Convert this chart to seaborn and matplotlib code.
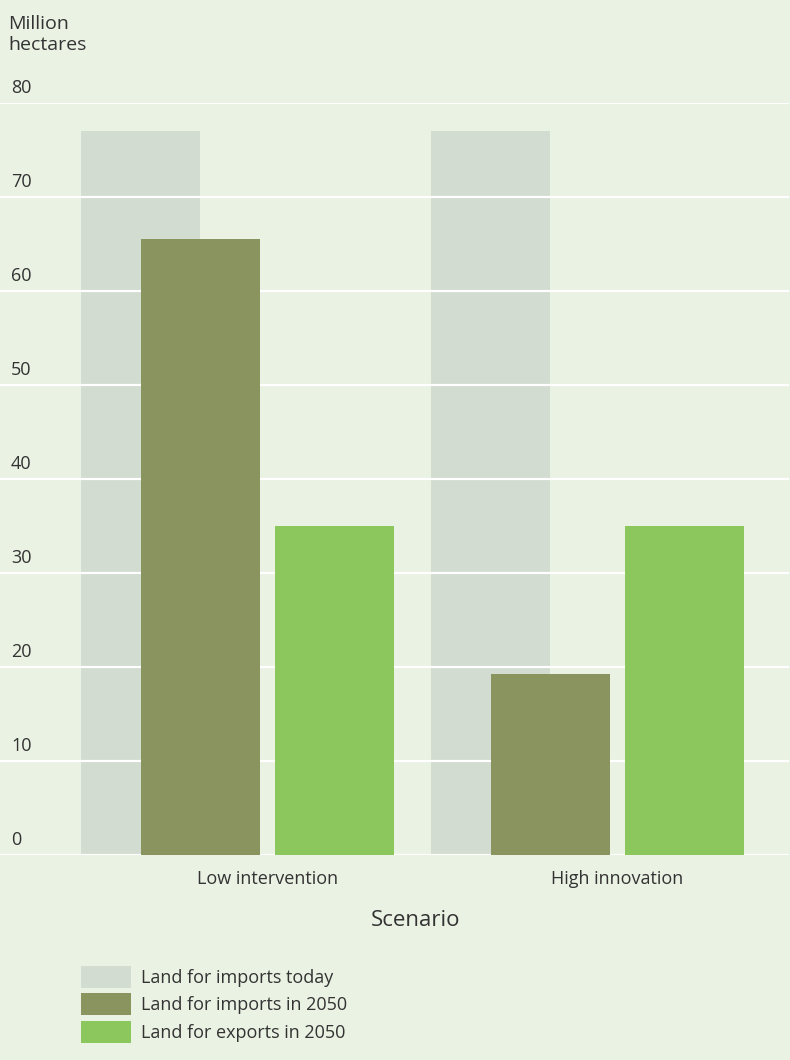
import numpy as np
import pandas as pd
import seaborn as sns
import matplotlib.pyplot as plt
import matplotlib.transforms as mtransforms
from matplotlib.patches import Patch

# data
scenarios = ["Low intervention", "High innovation"]
imports_today = [77, 77]
imports_2050 = [65.5, 19.3]
exports_2050 = [35, 35]
series_labels = ["Land for imports today", "Land for imports in 2050", "Land for exports in 2050"]
y_ticks = [0, 10, 20, 30, 40, 50, 60, 70, 80]

bg = "#eaf2e3"
grey = "#c9d4c8"
olive = "#8a945f"
green = "#8bc75c"
text_col = "#333333"

sns.set_theme(style="white")
plt.rcParams['font.family'] = ['Open Sans', 'DejaVu Sans']

fig = plt.figure(figsize=(7.9, 10.6), dpi=100, facecolor=bg)
ax = fig.add_axes([0, 1 - 855 / 1060, 789 / 790, (855 - 103) / 1060])
ax.set_facecolor(bg)

# grey "today" bars sit behind, shifted left of the group
grey_pos = np.arange(len(scenarios)) - 0.363
sns.barplot(x=grey_pos, y=imports_today, native_scale=True, width=0.34,
            color=grey, alpha=0.7, saturation=1, linewidth=0, ax=ax)
for p in ax.patches:
    p.set_zorder(1)
n_grey = len(ax.patches)

df = pd.DataFrame({
    "scenario": scenarios * 2,
    "series": [series_labels[1]] * 2 + [series_labels[2]] * 2,
    "value": imports_2050 + exports_2050,
})
sns.barplot(data=df, x="scenario", y="value", hue="series", order=scenarios,
            hue_order=series_labels[1:], palette=[olive, green], saturation=1,
            width=0.764, gap=0.11, linewidth=0, legend=False, ax=ax)
for p in ax.patches[n_grey:]:
    p.set_zorder(3)

ax.set_xlim(-0.764, 1.49)
ax.set_ylim(0, 80)
ax.set_yticks(y_ticks)
ax.set_xticks(range(len(scenarios)))
ax.set_xticklabels(scenarios, fontsize=13, color=text_col)
ax.grid(axis="y", color="white", linewidth=1.6)
ax.set_axisbelow(False)  # grid at 2.5: over grey, under coloured bars
for s in ax.spines.values():
    s.set_visible(False)
ax.tick_params(axis="x", length=0, pad=11)
ax.tick_params(axis="y", length=0, pad=-8, labelsize=13, labelcolor=text_col)
offset = mtransforms.ScaledTranslation(0, 4 / 72, fig.dpi_scale_trans)
for lab in ax.get_yticklabels():
    lab.set_horizontalalignment("left")
    lab.set_verticalalignment("bottom")
    lab.set_transform(lab.get_transform() + offset)
ax.set_xlabel("Scenario", fontsize=16, color=text_col)
ax.xaxis.set_label_coords(416 / 789, -(920 - 855) / 752, transform=ax.transAxes)
ax.xaxis.label.set_verticalalignment("center")
ax.set_ylabel("")

fig.text(8 / 790, 1 - 15 / 1060, "Million\nhectares", fontsize=14, color=text_col,
         va="top", ha="left", linespacing=1.25)

handles = [Patch(facecolor=c, edgecolor="none") for c in [grey, olive, green]]
handles[0].set_alpha(0.7)
fig.legend(handles, series_labels, loc="upper left", bbox_to_anchor=(81 / 790, 1 - 966 / 1060),
           frameon=False, fontsize=13, labelcolor=text_col, handlelength=2.75,
           handleheight=1.5, handletextpad=0.55, labelspacing=0.3, borderaxespad=0,
           borderpad=0)

plt.savefig("out.png", dpi=100, facecolor=bg)
